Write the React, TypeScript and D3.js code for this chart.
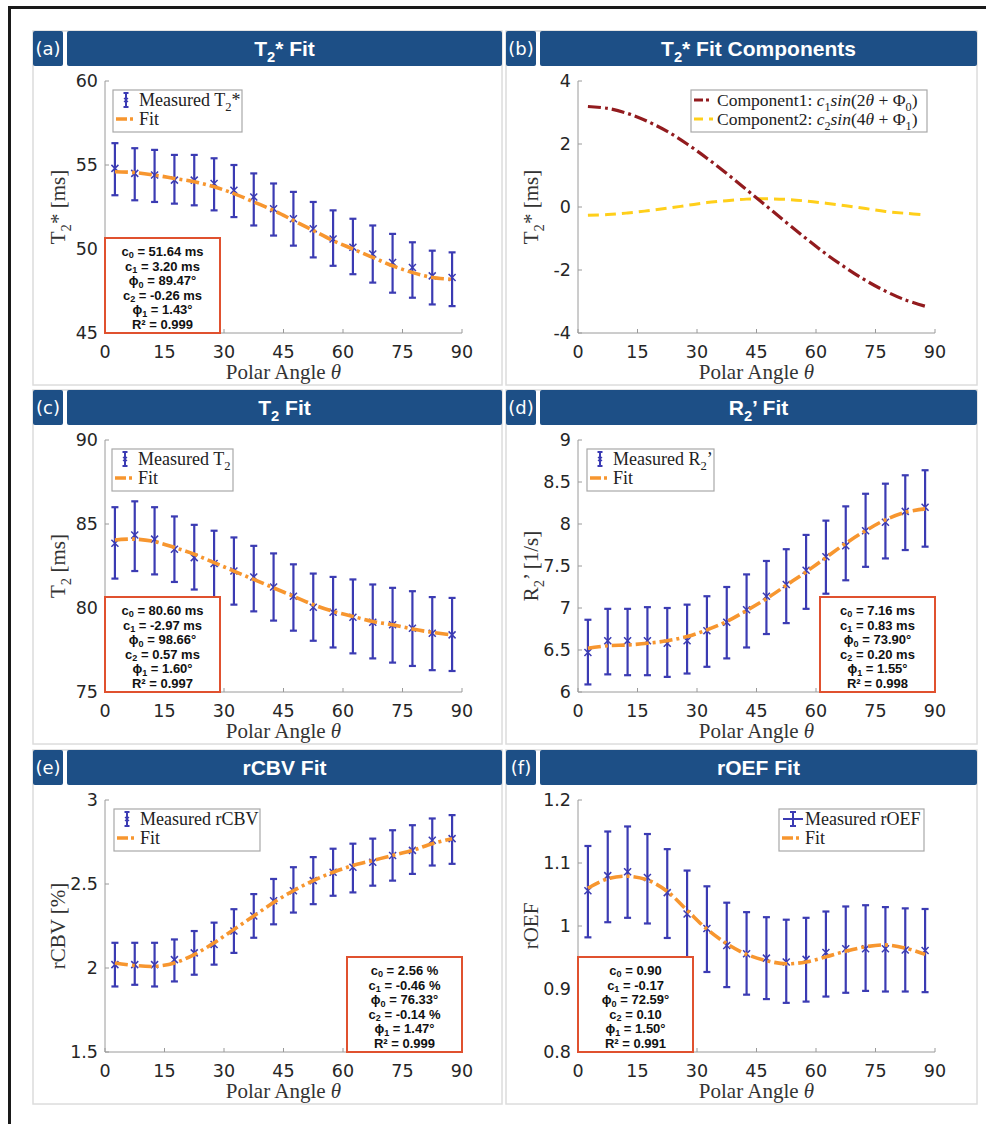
import React from 'react';
import * as d3 from 'd3';

// polar angle bins (deg)
const theta = [2.5, 7.5, 12.5, 17.5, 22.5, 27.5, 32.5, 37.5, 42.5, 47.5, 52.5, 57.5, 62.5, 67.5, 72.5, 77.5, 82.5, 87.5];
const xTicks = [0, 15, 30, 45, 60, 75, 90];

// (a) T2* fit
const t2sMeas = [54.8, 54.5, 54.4, 54.1, 54.1, 53.9, 53.5, 53.1, 52.4, 51.8, 51.2, 50.6, 50.1, 49.7, 49.2, 48.9, 48.4, 48.3];
const t2sHigh = [56.3, 56.0, 55.9, 55.6, 55.6, 55.4, 55.0, 54.5, 53.9, 53.4, 52.8, 52.3, 51.8, 51.4, 50.9, 50.4, 49.9, 49.8];
const t2sLow = [53.2, 52.9, 52.8, 52.7, 52.6, 52.3, 51.9, 51.4, 50.8, 50.2, 49.5, 49.0, 48.5, 48.0, 47.4, 47.1, 46.7, 46.6];
const t2sFit = [54.6, 54.55, 54.4, 54.2, 54.0, 53.7, 53.3, 52.8, 52.3, 51.7, 51.1, 50.5, 50.0, 49.5, 49.0, 48.6, 48.3, 48.2];
const t2sParams = [['c', '0', ' = 51.64 ms'], ['c', '1', ' = 3.20 ms'], ['ϕ', '0', ' = 89.47°'], ['c', '2', ' = -0.26 ms'], ['ϕ', '1', ' = 1.43°'], ['R²', '', ' = 0.999']];

// (b) T2* fit components
const comp1 = [3.19, 3.13, 2.97, 2.72, 2.40, 2.00, 1.55, 1.06, 0.55, 0.03, -0.49, -1.00, -1.49, -1.93, -2.33, -2.67, -2.95, -3.15];
const comp2 = [-0.26, -0.24, -0.19, -0.12, -0.04, 0.05, 0.14, 0.20, 0.25, 0.26, 0.24, 0.19, 0.12, 0.04, -0.05, -0.14, -0.20, -0.25];

// (c) T2 fit
const t2Meas = [83.85, 84.35, 84.1, 83.5, 83.0, 82.65, 82.2, 81.85, 81.25, 80.7, 80.05, 79.75, 79.45, 79.15, 79.0, 78.8, 78.5, 78.4];
const t2High = [86.0, 86.35, 86.0, 85.45, 84.95, 84.6, 84.2, 83.7, 83.25, 82.6, 82.05, 81.85, 81.7, 81.4, 81.2, 81.0, 80.65, 80.6];
const t2Low = [81.75, 82.2, 82.0, 81.55, 81.1, 80.65, 80.2, 79.8, 79.25, 78.65, 78.05, 77.65, 77.3, 77.0, 76.75, 76.55, 76.3, 76.25];
const t2Fit = [84.05, 84.1, 83.95, 83.6, 83.2, 82.7, 82.2, 81.7, 81.2, 80.7, 80.2, 79.8, 79.5, 79.2, 79.0, 78.75, 78.55, 78.4];
const t2Params = [['c', '0', ' = 80.60 ms'], ['c', '1', ' = -2.97 ms'], ['ϕ', '0', ' = 98.66°'], ['c', '2', ' = 0.57 ms'], ['ϕ', '1', ' = 1.60°'], ['R²', '', ' = 0.997']];

// (d) R2' fit
const r2pMeas = [6.47, 6.61, 6.61, 6.61, 6.58, 6.61, 6.73, 6.83, 6.98, 7.14, 7.28, 7.45, 7.61, 7.74, 7.92, 8.02, 8.15, 8.20];
const r2pHigh = [6.86, 6.99, 6.99, 7.01, 7.0, 7.04, 7.14, 7.25, 7.40, 7.56, 7.70, 7.87, 8.04, 8.21, 8.36, 8.48, 8.58, 8.64];
const r2pLow = [6.09, 6.21, 6.20, 6.20, 6.18, 6.22, 6.30, 6.40, 6.53, 6.69, 6.82, 6.99, 7.17, 7.33, 7.49, 7.59, 7.69, 7.73];
const r2pFit = [6.52, 6.55, 6.56, 6.58, 6.61, 6.66, 6.74, 6.84, 6.97, 7.11, 7.27, 7.43, 7.60, 7.77, 7.92, 8.05, 8.14, 8.18];
const r2pParams = [['c', '0', ' = 7.16 ms'], ['c', '1', ' = 0.83 ms'], ['ϕ', '0', ' = 73.90°'], ['c', '2', ' = 0.20 ms'], ['ϕ', '1', ' = 1.55°'], ['R²', '', ' = 0.998']];

// (e) rCBV fit
const cbvMeas = [2.02, 2.02, 2.02, 2.05, 2.09, 2.14, 2.22, 2.31, 2.40, 2.46, 2.52, 2.57, 2.60, 2.63, 2.67, 2.70, 2.76, 2.77];
const cbvHigh = [2.15, 2.15, 2.15, 2.17, 2.22, 2.27, 2.35, 2.44, 2.53, 2.60, 2.66, 2.71, 2.74, 2.77, 2.82, 2.85, 2.89, 2.91];
const cbvLow = [1.89, 1.90, 1.89, 1.92, 1.96, 2.02, 2.09, 2.18, 2.26, 2.33, 2.38, 2.43, 2.45, 2.49, 2.52, 2.56, 2.61, 2.62];
const cbvFit = [2.03, 2.015, 2.01, 2.03, 2.08, 2.15, 2.23, 2.31, 2.39, 2.46, 2.52, 2.57, 2.61, 2.64, 2.67, 2.70, 2.74, 2.77];
const cbvParams = [['c', '0', ' = 2.56 %'], ['c', '1', ' = -0.46 %'], ['ϕ', '0', ' = 76.33°'], ['c', '2', ' = -0.14 %'], ['ϕ', '1', ' = 1.47°'], ['R²', '', ' = 0.999']];

// (f) rOEF fit
const oefMeas = [1.056, 1.080, 1.086, 1.077, 1.053, 1.019, 0.996, 0.969, 0.956, 0.949, 0.943, 0.947, 0.958, 0.964, 0.964, 0.964, 0.962, 0.961];
const oefHigh = [1.127, 1.150, 1.158, 1.146, 1.122, 1.088, 1.063, 1.037, 1.022, 1.014, 1.010, 1.013, 1.023, 1.031, 1.033, 1.030, 1.028, 1.027];
const oefLow = [0.982, 1.006, 1.013, 1.004, 0.981, 0.949, 0.927, 0.903, 0.891, 0.884, 0.878, 0.880, 0.888, 0.894, 0.897, 0.896, 0.896, 0.895];
const oefFit = [1.060, 1.075, 1.079, 1.073, 1.055, 1.025, 0.995, 0.972, 0.955, 0.945, 0.940, 0.943, 0.951, 0.960, 0.967, 0.970, 0.965, 0.955];
const oefParams = [['c', '0', ' = 0.90'], ['c', '1', ' = -0.17'], ['ϕ', '0', ' = 72.59°'], ['c', '2', ' = 0.10'], ['ϕ', '1', ' = 1.50°'], ['R²', '', ' = 0.991']];

const NAVY = '#1d4f86';
const BLUE = '#3b3bb3';
const ORANGE = '#f7962f';
const DARKRED = '#921b1e';
const YELLOW = '#ffcf1a';
const BOXRED = '#e0512f';
const SANS = '"Liberation Sans", Arial, sans-serif';
const TICKFONT = '"DejaVu Sans", sans-serif';
const SERIF = '"Liberation Serif", "Times New Roman", serif';

const COLS = [{ x: 33, w: 469, ax: 105 }, { x: 506, w: 471, ax: 578 }];
const ROWS = [31, 390, 750];
const PW = 357;
const PH = 252;

type Seg = { t: string; sub?: boolean; sup?: boolean; it?: boolean };

// tspans with sub/superscripts; empty pieces are dropped so the shifts stay paired
function rich(segs: Seg[], size: number, subShift = 0.3) {
  let prev = 0;
  return segs.filter((s) => s.t !== '').map((s, i) => {
    const shift = s.sub ? size * subShift : s.sup ? -size * 0.35 : 0;
    const dy = shift - prev;
    prev = shift;
    return (
      <tspan key={i} dy={dy} fontSize={s.sub || s.sup ? size * 0.7 : size} fontStyle={s.it ? 'italic' : 'normal'}>
        {s.t}
      </tspan>
    );
  });
}

const panels = [
  {
    label: '(a)', col: 0, row: 0,
    title: [{ t: 'T' }, { t: '2', sub: true }, { t: '* Fit' }],
    yDomain: [45, 60], yTicks: [45, 50, 55, 60],
    yLabel: [{ t: 'T' }, { t: '2', sub: true }, { t: '* [ms]' }],
    meas: { mid: t2sMeas, hi: t2sHigh, lo: t2sLow }, fit: t2sFit,
    legend: { dx: 8, w: 129, text: [{ t: 'Measured T' }, { t: '2', sub: true }, { t: '*' }], full: false },
    params: t2sParams, boxSide: 'left',
  },
  {
    label: '(b)', col: 1, row: 0,
    title: [{ t: 'T' }, { t: '2', sub: true }, { t: '* Fit Components' }],
    yDomain: [-4, 4], yTicks: [-4, -2, 0, 2, 4],
    yLabel: [{ t: 'T' }, { t: '2', sub: true }, { t: '* [ms]' }],
    comps: true,
  },
  {
    label: '(c)', col: 0, row: 1,
    title: [{ t: 'T' }, { t: '2', sub: true }, { t: ' Fit' }],
    yDomain: [75, 90], yTicks: [75, 80, 85, 90],
    yLabel: [{ t: 'T' }, { t: '2', sub: true }, { t: ' [ms]' }],
    meas: { mid: t2Meas, hi: t2High, lo: t2Low }, fit: t2Fit,
    legend: { dx: 7, w: 121, text: [{ t: 'Measured T' }, { t: '2', sub: true }], full: false },
    params: t2Params, boxSide: 'left',
  },
  {
    label: '(d)', col: 1, row: 1,
    title: [{ t: 'R' }, { t: '2', sub: true }, { t: '’ Fit' }],
    yDomain: [6, 9], yTicks: [6, 6.5, 7, 7.5, 8, 8.5, 9],
    yLabel: [{ t: 'R' }, { t: '2', sub: true }, { t: '’ [1/s]' }],
    meas: { mid: r2pMeas, hi: r2pHigh, lo: r2pLow }, fit: r2pFit,
    legend: { dx: 9, w: 127, text: [{ t: 'Measured R' }, { t: '2', sub: true }, { t: '’' }], full: false },
    params: r2pParams, boxSide: 'right',
  },
  {
    label: '(e)', col: 0, row: 2,
    title: [{ t: 'rCBV Fit' }],
    yDomain: [1.5, 3], yTicks: [1.5, 2, 2.5, 3],
    yLabel: [{ t: 'rCBV [%]' }],
    meas: { mid: cbvMeas, hi: cbvHigh, lo: cbvLow }, fit: cbvFit,
    legend: { dx: 9, w: 146, text: [{ t: 'Measured rCBV' }], full: false },
    params: cbvParams, boxSide: 'right',
  },
  {
    label: '(f)', col: 1, row: 2,
    title: [{ t: 'rOEF Fit' }],
    yDomain: [0.8, 1.2], yTicks: [0.8, 0.9, 1, 1.1, 1.2],
    yLabel: [{ t: 'rOEF' }],
    meas: { mid: oefMeas, hi: oefHigh, lo: oefLow }, fit: oefFit,
    legend: { dx: 201, w: 145, text: [{ t: 'Measured rOEF' }], full: true },
    params: oefParams, boxSide: 'left',
  },
];

function Panel({ p }: { p: any }) {
  const c = COLS[p.col];
  const y0 = ROWS[p.row];
  const top = y0 + 50;
  const bottom = top + PH;
  const ax = c.ax;
  const x = d3.scaleLinear().domain([0, 90]).range([ax, ax + PW]);
  const y = d3.scaleLinear().domain(p.yDomain).range([bottom, top]);
  const line = d3.line<number>().x((_, i) => x(theta[i])).y((d) => y(d)).curve(d3.curveCatmullRom);
  const fmt = (v: number) => String(+v.toFixed(2));

  const lx = ax + (p.legend ? p.legend.dx : 113);
  const ly = top + 9;

  const boxW = 115;
  const boxH = 95;
  const bx = p.boxSide === 'left' ? ax : ax + PW - boxW;
  const by = bottom - boxH;

  return (
    <g>
      <rect x={c.x} y={y0} width={c.w} height={354} fill="#fff" stroke="#dcdcdc" strokeWidth={1.5} />
      <rect x={c.x} y={y0} width={30} height={35} fill={NAVY} rx={2} />
      <text x={c.x + 15} y={y0 + 24} textAnchor="middle" fill="#fff" fontFamily={TICKFONT} fontSize={18}>{p.label}</text>
      <rect x={c.x + 34} y={y0} width={c.w - 34} height={35} fill={NAVY} rx={2} />
      <text x={c.x + 34 + (c.w - 34) / 2} y={y0 + 25} textAnchor="middle" fill="#fff" fontFamily={SANS} fontWeight="bold" fontSize={21}>
        {rich(p.title, 21)}
      </text>

      {/* axes */}
      <line x1={ax} x2={ax} y1={top} y2={bottom} stroke="#9a9a9a" strokeWidth={1} />
      <line x1={ax} x2={ax + PW} y1={bottom} y2={bottom} stroke="#9a9a9a" strokeWidth={1} />
      {xTicks.map((t) => (
        <g key={'x' + t}>
          <line x1={x(t)} x2={x(t)} y1={bottom} y2={bottom - 4} stroke="#9a9a9a" />
          <text x={x(t)} y={bottom + 25} textAnchor="middle" fontFamily={TICKFONT} fontSize={17.5} fill="#262626">{t}</text>
        </g>
      ))}
      {p.yTicks.map((t: number) => (
        <g key={'y' + t}>
          <line x1={ax} x2={ax + 4} y1={y(t)} y2={y(t)} stroke="#9a9a9a" />
          <text x={ax - 7} y={y(t) + 6.3} textAnchor="end" fontFamily={TICKFONT} fontSize={17.5} fill="#262626">{fmt(t)}</text>
        </g>
      ))}
      <text x={ax + PW / 2} y={bottom + 46} textAnchor="middle" fontFamily={SERIF} fontSize={21} fill="#333">
        Polar Angle <tspan fontStyle="italic">θ</tspan>
      </text>
      <text transform={`translate(${ax - 40},${top + PH / 2}) rotate(-90)`} textAnchor="middle" fontFamily={SERIF} fontSize={21} fill="#333">
        {rich(p.yLabel, 21)}
      </text>

      {/* measured with error bars */}
      {p.meas && theta.map((t, i) => {
        const cx = x(t);
        const cy = y(p.meas.mid[i]);
        const hy = y(p.meas.hi[i]);
        const lo = y(p.meas.lo[i]);
        return (
          <g key={'e' + i} stroke={BLUE} fill="none">
            <line x1={cx} x2={cx} y1={hy} y2={lo} strokeWidth={2.2} />
            <line x1={cx - 3.5} x2={cx + 3.5} y1={hy} y2={hy} strokeWidth={2.2} />
            <line x1={cx - 3.5} x2={cx + 3.5} y1={lo} y2={lo} strokeWidth={2.2} />
            <path d={`M${cx - 3.5},${cy - 3.5}L${cx + 3.5},${cy + 3.5}M${cx - 3.5},${cy + 3.5}L${cx + 3.5},${cy - 3.5}`} strokeWidth={1.5} />
          </g>
        );
      })}
      {p.fit && (
        <path d={line(p.fit) || ''} fill="none" stroke={ORANGE} strokeWidth={3.6} strokeDasharray="13 4 3 4" />
      )}
      {p.comps && (
        <g fill="none">
          <path d={line(comp2) || ''} stroke={YELLOW} strokeWidth={3} strokeDasharray="11 6" />
          <path d={line(comp1) || ''} stroke={DARKRED} strokeWidth={3.2} strokeDasharray="13 4 3 4" />
        </g>
      )}

      {/* legend */}
      {p.legend && (
        <g>
          <rect x={lx} y={ly} width={p.legend.w} height={42} fill="#fff" stroke="#a8a8a8" strokeWidth={1.2} />
          {p.legend.full ? (
            <g stroke={BLUE} strokeWidth={2}>
              <line x1={lx + 4} x2={lx + 24} y1={ly + 10} y2={ly + 10} />
              <line x1={lx + 14} x2={lx + 14} y1={ly + 3} y2={ly + 17} />
              <line x1={lx + 11} x2={lx + 17} y1={ly + 3} y2={ly + 3} />
              <line x1={lx + 11} x2={lx + 17} y1={ly + 17} y2={ly + 17} />
            </g>
          ) : (
            <g stroke={BLUE} strokeWidth={2}>
              <line x1={lx + 13} x2={lx + 13} y1={ly + 3} y2={ly + 17} />
              <line x1={lx + 10.5} x2={lx + 15.5} y1={ly + 3} y2={ly + 3} />
              <line x1={lx + 10.5} x2={lx + 15.5} y1={ly + 17} y2={ly + 17} />
              <path d={`M${lx + 11},${ly + 8}L${lx + 15},${ly + 12}M${lx + 11},${ly + 12}L${lx + 15},${ly + 8}`} strokeWidth={1.2} />
            </g>
          )}
          <text x={lx + 26} y={ly + 16} fontFamily={SERIF} fontSize={18} fill="#222">{rich(p.legend.text, 18)}</text>
          <line x1={lx + 3} x2={lx + 24} y1={ly + 29} y2={ly + 29} stroke={ORANGE} strokeWidth={3.6} strokeDasharray="11 3 3 4" />
          <text x={lx + 26} y={ly + 35} fontFamily={SERIF} fontSize={18} fill="#222">Fit</text>
        </g>
      )}
      {p.comps && (
        <g>
          <rect x={lx} y={ly} width={236} height={42} fill="#fff" stroke="#a8a8a8" strokeWidth={1.2} />
          <line x1={lx + 3} x2={lx + 22} y1={ly + 10} y2={ly + 10} stroke={DARKRED} strokeWidth={3.2} strokeDasharray="9 3 3 4" />
          <line x1={lx + 3} x2={lx + 22} y1={ly + 29} y2={ly + 29} stroke={YELLOW} strokeWidth={3} strokeDasharray="9 6" />
          <text x={lx + 26} y={ly + 16} fontFamily={SERIF} fontSize={17.5} fill="#222">
            {rich([{ t: 'Component1:  ' }, { t: 'c', it: true }, { t: '1', sub: true }, { t: 'sin', it: true }, { t: '(2' }, { t: 'θ', it: true }, { t: ' + Φ' }, { t: '0', sub: true }, { t: ')' }], 17.5)}
          </text>
          <text x={lx + 26} y={ly + 35} fontFamily={SERIF} fontSize={17.5} fill="#222">
            {rich([{ t: 'Component2:  ' }, { t: 'c', it: true }, { t: '2', sub: true }, { t: 'sin', it: true }, { t: '(4' }, { t: 'θ', it: true }, { t: ' + Φ' }, { t: '1', sub: true }, { t: ')' }], 17.5)}
          </text>
        </g>
      )}

      {/* fit parameter box */}
      {p.params && (
        <g>
          <rect x={bx} y={by} width={boxW} height={boxH} fill="#fff" stroke={BOXRED} strokeWidth={2} />
          {p.params.map((r: string[], i: number) => (
            <text key={'p' + i} x={bx + boxW / 2} y={by + 18 + i * 14.6} textAnchor="middle" fontFamily={SANS} fontWeight="bold" fontSize={13} fill="#111">
              {rich([{ t: r[0] }, { t: r[1], sub: true }, { t: r[2] }], 13, 0.18)}
            </text>
          ))}
        </g>
      )}
    </g>
  );
}

export default function App() {
  return (
    <svg width={986} height={1124} style={{ position: 'absolute', left: 0, top: 0, display: 'block', background: '#fff' }}>
      <rect x={0} y={0} width={986} height={1124} fill="#fff" />
      <rect x={9.5} y={7.5} width={1000} height={1140} fill="none" stroke="#1a1a1a" strokeWidth={3} />
      {panels.map((p, i) => (
        <Panel key={i} p={p} />
      ))}
    </svg>
  );
}
